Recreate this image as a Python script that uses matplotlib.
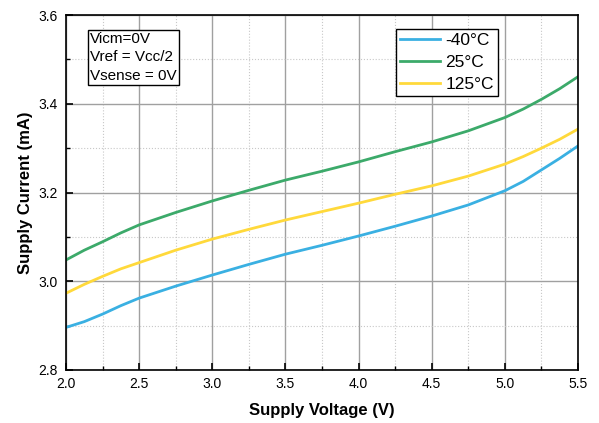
import numpy as np
import matplotlib
matplotlib.use("Agg")
import matplotlib.pyplot as plt
from matplotlib.ticker import MultipleLocator

plt.rcParams["font.family"] = ["Liberation Sans", "DejaVu Sans"]

# supply current vs supply voltage at three temperatures
vcc = [2.0, 2.125, 2.25, 2.375, 2.5, 2.75, 3.0, 3.25, 3.5, 3.75, 4.0, 4.25,
       4.5, 4.75, 5.0, 5.125, 5.25, 5.375, 5.5]
i_m40 = [2.896, 2.909, 2.926, 2.945, 2.962, 2.989, 3.014, 3.038, 3.061, 3.081,
         3.102, 3.124, 3.147, 3.172, 3.204, 3.225, 3.251, 3.277, 3.305]
i_25 = [3.048, 3.070, 3.089, 3.109, 3.127, 3.155, 3.181, 3.205, 3.228, 3.248,
        3.269, 3.292, 3.314, 3.339, 3.369, 3.388, 3.410, 3.434, 3.461]
i_125 = [2.973, 2.993, 3.011, 3.028, 3.042, 3.070, 3.095, 3.117, 3.138, 3.157,
         3.176, 3.196, 3.215, 3.237, 3.264, 3.281, 3.300, 3.320, 3.343]
labels = ["-40°C", "25°C", "125°C"]
colors = ["#3AB0E2", "#3CAA6A", "#FFD93B"]

fig = plt.figure(figsize=(5.99, 4.23), dpi=100)
ax = fig.add_axes([0.1102, 0.1253, 0.8548, 0.8392])

for y, lab, c in zip([i_m40, i_25, i_125], labels, colors):
    ax.plot(vcc, y, color=c, lw=2, label=lab)

ax.set_xlim(2.0, 5.5)
ax.set_ylim(2.8, 3.6)
ax.xaxis.set_major_locator(MultipleLocator(0.5))
ax.xaxis.set_minor_locator(MultipleLocator(0.25))
ax.yaxis.set_major_locator(MultipleLocator(0.2))
ax.yaxis.set_minor_locator(MultipleLocator(0.1))
ax.xaxis.set_major_formatter(plt.FormatStrFormatter("%.1f"))
ax.yaxis.set_major_formatter(plt.FormatStrFormatter("%.1f"))

ax.grid(which="major", color="#a0a0a0", lw=1, ls="-")
ax.grid(which="minor", color="#c8c8c8", lw=0.8, ls=":")
ax.set_axisbelow(True)

ax.tick_params(which="both", direction="in", labelsize=10, top=False, right=False)
ax.tick_params(axis="x", pad=5)
ax.tick_params(axis="y", pad=6)
ax.tick_params(which="major", length=5, width=1.2)
ax.tick_params(which="minor", length=3, width=1)
for s in ax.spines.values():
    s.set_color("black")
    s.set_linewidth(1.2)

ax.set_xlabel("Supply Voltage (V)", fontsize=12, fontweight="bold", labelpad=9)
ax.set_ylabel("Supply Current (mA)", fontsize=12, fontweight="bold", labelpad=4)

ax.text(0.047, 0.952, "Vicm=0V\nVref = Vcc/2\nVsense = 0V", transform=ax.transAxes,
        fontsize=11, va="top", ha="left", linespacing=1.4,
        bbox=dict(boxstyle="square,pad=0.15", fc="white", ec="black", lw=1))

leg = ax.legend(loc="upper left", bbox_to_anchor=(0.6445, 0.9606), fontsize=12.5,
                frameon=True, fancybox=False, edgecolor="black", framealpha=1,
                handlelength=2.3, handletextpad=0.3, borderpad=0.25,
                labelspacing=0.38, borderaxespad=0)
leg.get_frame().set_linewidth(1)

fig.savefig("out.png", dpi=100)
